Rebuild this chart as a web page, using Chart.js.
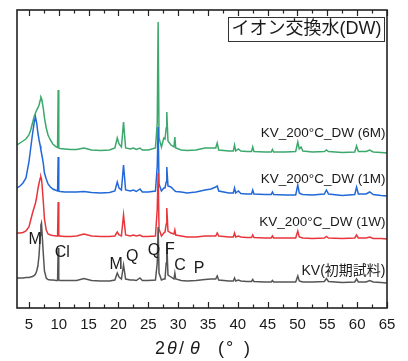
<!DOCTYPE html>
<html><head><meta charset="utf-8">
<script src="https://cdn.jsdelivr.net/npm/chart.js@4.4.0/dist/chart.umd.min.js"></script>
<style>html,body{margin:0;padding:0;background:#fff;}#wrap{width:408px;height:361px;}</style>
</head><body><div id="wrap"><canvas id="c" width="408" height="361"></canvas></div>
<script>
// 2θ positions (degrees)
const ANGLES = [3,3.5,4,4.5,5,5.3,5.6,5.9,6.1,6.3,6.5,6.7,6.9,7.0,7.1,7.2,7.4,7.6,7.9,8.2,8.6,9.0,9.6,9.8,9.9,10.0,10.2,11,12,13,14.2,15.5,17,18.5,19.4,19.8,20.1,20.5,20.85,21.2,22,22.5,23,23.6,24,25,26.2,26.5,26.65,26.8,27.2,27.6,27.8,28.0,28.1,28.3,28.8,29.3,29.45,29.6,30.5,31.5,33,34.5,35.5,36.3,36.55,36.8,38.5,39.25,39.45,39.65,40.1,40.5,41.5,42.3,42.5,42.7,44.5,45.6,45.8,46,48,49.7,50.05,50.3,50.6,50.9,52.5,54.5,54.85,55.2,57.5,59.6,59.9,60.2,61.5,62.1,62.7,64,65];
// intensities (arbitrary units, relative to each pattern's baseline)
const KV_INIT = [5,5,5,5.5,5.5,6,6.5,7.5,9,12,17,28,48,58,60,50,30,12,5,3.5,3,3,2.5,2.5,35,3,2.5,2.5,2.5,2.5,4.5,2.5,2,2,3,10,6,4,18,4,3,3,2.5,5,2.5,2.5,3,20,56,10,3,4,4,20,40,8,6,4,10,4,2.5,2,2.5,3.5,4,4,7,3,2,2,5,2,3,2,1.5,1.5,3.5,1.5,1,1,2.5,1,1,1,7,2,1.5,1,1,1.5,4.5,1.5,0.5,1,4,1,1,2.5,1,0.5,0];
const DW_1W = [6,6,6.5,8,12,19,26,32,36,42,50,56,61,62,60,54,38,20,9,5,4,3.5,3,3,37,3,3,2.5,2.5,3,5,3,2.5,2.5,3,7,4,3,24,4,3,4,3,4,2.5,2.5,3,30,66,10,3,6,7,15,31,8,6,5,9,4,3,2,2,3,3,3,6,3,2,2,6,2,3,2,1.5,1.5,4,1.5,1,1,3,1,1,1,8,2,1.5,1,0.5,1,2.5,1,0.5,1,4,1,1,2,0.5,0.5,0];
const DW_1M = [8,10,13,18,34,48,62,74,79,73,63,56,50,46,43,40,33,23,17,12,9,7,5.5,5,39,5,4.5,4,4,4,4.5,3.5,3,3.5,5,14,8,6,31,6,5,6,4.5,7,4,4,5,30,69,12,5,8,8,14,29,10,9,6,5,4.5,4,3,4,6,7,9,10,5,3,3,8,3,5,2.5,2,2,6,2,1.5,1.5,4,1.5,1,1,11,3,2,1.5,1,2,6,2,0.5,1.5,9,2,2,4,1.5,0.5,0];
const DW_6M = [8,10,12,14,18,23,30,37,40,43,45,48,53,56,55,52,45,35,25,18,13,9,6,5.5,63,5,4.5,4,3.5,3.5,5,3,2.5,3,5,15,9,6,31,5,4,5,3.5,5,3,3,5,30,131,15,6,15,14,25,41,12,8,6,16,5,3,2.5,3,5,5,5,10,3,2,2,8,2,4,2,1.5,1.5,6,1.5,1,1,3.5,1,1,1.5,11,4,6,2,1,1.5,3,1.5,0.5,1,7,1.5,1.5,3,1,0.5,0];
const SERIES_NAMES = ['KV(初期試料)', 'KV_200°C_DW (1W)', 'KV_200°C_DW (1M)', 'KV_200°C_DW (6M)'];
const SERIES_VALUES = [KV_INIT, DW_1W, DW_1M, DW_6M];
const X_TICKS = [5,10,15,20,25,30,35,40,45,50,55,60,65];
const PHASES = [
  {t:'M', x:6.06, y:68}, {t:'Cl', x:10.6, y:55}, {t:'M', x:19.6, y:43}, {t:'Q', x:22.3, y:51},
  {t:'Q', x:25.95, y:57}, {t:'F', x:28.6, y:58}, {t:'C', x:30.3, y:42}, {t:'P', x:33.5, y:39}
];
const BOX_TITLE = 'イオン交換水(DW)';

// presentation
const OFFSETS = [25, 69, 112, 155];
const LABEL_RISE = [11.5, 16.5, 17, 20];
const COLORS = ['#555555', '#e8353b', '#2168d8', '#3ba86c'];
const FONT = "'Liberation Sans', 'Noto Sans CJK JP', sans-serif";

const datasets = SERIES_VALUES.map((vals, i) => ({
  label: SERIES_NAMES[i],
  data: ANGLES.map((a, k) => ({x: a, y: OFFSETS[i] + vals[k]})),
  borderColor: COLORS[i],
  borderWidth: 1.5,
  pointRadius: 0,
  tension: 0,
  fill: false
}));

const deco = {
  id: 'deco',
  afterDraw(chart) {
    const {ctx, chartArea: a, scales: {x, y}} = chart;
    ctx.save();
    ctx.strokeStyle = '#222';
    ctx.lineWidth = 1.2;
    for (let v = Math.ceil(x.min / 2.5) * 2.5; v <= x.max + 1e-9; v += 2.5) {
      const px = Math.round(x.getPixelForValue(v)) + 0.5;
      const major = Math.abs(v / 5 - Math.round(v / 5)) < 1e-6;
      const L = major ? 6 : 3.5;
      ctx.beginPath();
      ctx.moveTo(px, a.bottom); ctx.lineTo(px, a.bottom - L);
      ctx.moveTo(px, a.top); ctx.lineTo(px, a.top + L);
      ctx.stroke();
    }
    ctx.lineWidth = 1.6;
    ctx.strokeRect(a.left, a.top, a.right - a.left, a.bottom - a.top);

    ctx.fillStyle = '#1a1a1a';
    // series labels
    ctx.textAlign = 'right'; ctx.textBaseline = 'middle';
    SERIES_NAMES.forEach((n, i) => {
      ctx.font = (i === 0 ? '14px ' : '13.5px ') + FONT;
      ctx.fillText(n, a.right - 1.5, y.getPixelForValue(OFFSETS[i]) - LABEL_RISE[i]);
    });
    // phase letters
    ctx.textAlign = 'center';
    ctx.font = '16px ' + FONT;
    PHASES.forEach(p => ctx.fillText(p.t, x.getPixelForValue(p.x), y.getPixelForValue(p.y)));
    // boxed title
    ctx.font = '18px ' + FONT;
    const w = ctx.measureText(BOX_TITLE).width;
    const bx = a.right - 3 - (w + 6), by = a.top + 6.5;
    ctx.lineWidth = 1;
    ctx.strokeStyle = '#333';
    ctx.strokeRect(Math.round(bx) + 0.5, Math.round(by) + 0.5, Math.round(w + 6), 24);
    ctx.textAlign = 'left';
    ctx.fillText(BOX_TITLE, bx + 3.5, by + 12.8);
    // axis title 2θ/θ(°)
    const cx = (a.left + a.right) / 2, ty = 349;
    const parts = [['2', -47, ''], ['θ', -35, 'italic '], ['/', -23, ''], ['θ', -12, 'italic '], ['(', 16, ''], ['°', 24, ''], [')', 42, '']];
    ctx.textAlign = 'left';
    parts.forEach(([s, dx, st]) => {
      ctx.font = st + '18px ' + FONT;
      ctx.fillText(s, cx + dx, ty);
    });
    ctx.restore();
  }
};

new Chart(document.getElementById('c'), {
  type: 'line',
  data: {datasets},
  options: {
    responsive: false,
    animation: false,
    devicePixelRatio: 1,
    layout: {padding: {left: 17, right: 21, top: 10, bottom: 0}},
    plugins: {legend: {display: false}, tooltip: {enabled: false}},
    scales: {
      x: {
        type: 'linear', min: 3, max: 65,
        grid: {display: false, drawTicks: false},
        border: {display: false},
        afterBuildTicks: s => { s.ticks = X_TICKS.map(v => ({value: v})); },
        afterFit: s => { s.height = 53; },
        ticks: {padding: 8, maxRotation: 0, autoSkip: false, color: '#1a1a1a', font: {family: FONT, size: 15}}
      },
      y: {display: false, min: 0, max: 298}
    }
  },
  plugins: [deco]
});
</script></body></html>
